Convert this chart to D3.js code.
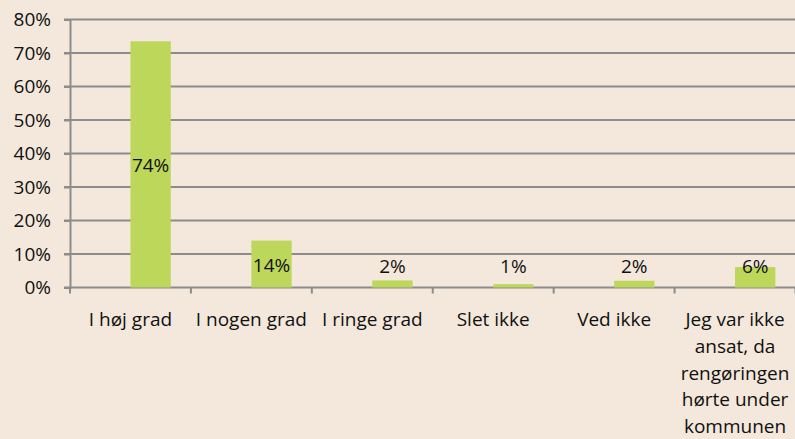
<!DOCTYPE html>
<html>
<head>
  <meta charset="utf-8">
  <script src="https://d3js.org/d3.v7.min.js"></script>
  <style>
    body { margin: 0; background: #f3e8db; }
    svg { display: block; font-family: "Open Sans", sans-serif; }
  </style>
</head>
<body>
  <div id="chart"></div>
  <script type="text/javascript">

    // data
    var categories = ["I høj grad", "I nogen grad", "I ringe grad", "Slet ikke", "Ved ikke",
                      "Jeg var ikke ansat, da rengøringen hørte under kommunen"];
    var values = [73.5, 14, 2.1, 1, 2, 6.1];
    var labels = ["74%", "14%", "2%", "1%", "2%", "6%"];
    var yTicks = [0, 10, 20, 30, 40, 50, 60, 70, 80];

    var width = 795, height = 439;
    var margin = {top: 19.5, right: 0, bottom: 151.5, left: 70};
    var fontSize = 19;

    var svg = d3.select("#chart")
                .append("svg")
                  .attr("width", width)
                  .attr("height", height);

    svg.append("rect")
        .attr("width", width)
        .attr("height", height)
        .attr("fill", "#f3e8db");

    var x = d3.scaleBand()
        .domain(categories)
        .range([margin.left, width + 0.5]);

    var y = d3.scaleLinear()
        .domain([0, 80])
        .range([height - margin.bottom, margin.top]);

    var gridColor = "#8c8c8c";

    // gridlines
    svg.append("g")
        .selectAll("line")
        .data(yTicks)
        .enter()
        .append("line")
          .attr("x1", margin.left - 6)
          .attr("x2", width)
          .attr("y1", function(d) { return y(d); })
          .attr("y2", function(d) { return y(d); })
          .attr("stroke", gridColor)
          .attr("stroke-width", 2);

    // y axis
    var yAxis = svg.append("g")
        .attr("transform", "translate(" + margin.left + ",0)")
        .call(d3.axisLeft(y).tickValues(yTicks).tickFormat(function(d) { return d + "%"; })
              .tickSize(6).tickPadding(13));
    yAxis.select(".domain").attr("stroke", gridColor).attr("stroke-width", 2);
    yAxis.selectAll(".tick line").attr("stroke", gridColor).attr("stroke-width", 2);
    yAxis.selectAll(".tick text")
        .attr("font-size", fontSize)
        .attr("font-family", "Open Sans, sans-serif")
        .attr("fill", "#111");

    // x axis ticks at band boundaries
    var bounds = categories.map(function(c) { return x(c); }).concat([x(categories[5]) + x.bandwidth()]);
    svg.append("g")
        .selectAll("line")
        .data(bounds)
        .enter()
        .append("line")
          .attr("x1", function(d) { return d; })
          .attr("x2", function(d) { return d; })
          .attr("y1", y(0))
          .attr("y2", y(0) + 6)
          .attr("stroke", gridColor)
          .attr("stroke-width", 2);

    // bars
    svg.append("g")
        .selectAll("rect")
        .data(values)
        .enter()
        .append("rect")
          .attr("x", function(d, i) { return x(categories[i]) + x.bandwidth() / 2; })
          .attr("width", x.bandwidth() / 3)
          .attr("y", function(d) { return y(d); })
          .attr("height", function(d) { return y(0) - y(d); })
          .attr("fill", "#bdd75b");

    // value labels
    svg.append("g")
        .selectAll("text")
        .data(values)
        .enter()
        .append("text")
          .attr("x", function(d, i) { return x(categories[i]) + x.bandwidth() / 2 + x.bandwidth() / 6; })
          .attr("y", function(d) { return Math.min((y(d) + y(0)) / 2 + 1, y(6) - 1); })
          .attr("dy", "0.35em")
          .attr("text-anchor", "middle")
          .attr("font-size", fontSize)
          .attr("fill", "#111")
          .text(function(d, i) { return labels[i]; });

    // category labels, wrapped to the band width
    var catText = svg.append("g")
        .selectAll("text")
        .data(categories)
        .enter()
        .append("text")
          .attr("x", function(d) { return x(d) + x.bandwidth() / 2; })
          .attr("y", 326)
          .attr("text-anchor", "middle")
          .attr("font-size", fontSize)
          .attr("fill", "#111");

    catText.each(function(d) {
      var el = d3.select(this);
      var words = d.split(" ");
      var line = [];
      var tspan = el.append("tspan").attr("x", el.attr("x")).attr("dy", 0);
      words.forEach(function(w) {
        line.push(w);
        tspan.text(line.join(" "));
        if (tspan.node().getComputedTextLength() > x.bandwidth() - 2 && line.length > 1) {
          line.pop();
          tspan.text(line.join(" "));
          line = [w];
          tspan = el.append("tspan").attr("x", el.attr("x")).attr("dy", 26.8).text(w);
        }
      });
    });

  </script>
</body>
</html>
